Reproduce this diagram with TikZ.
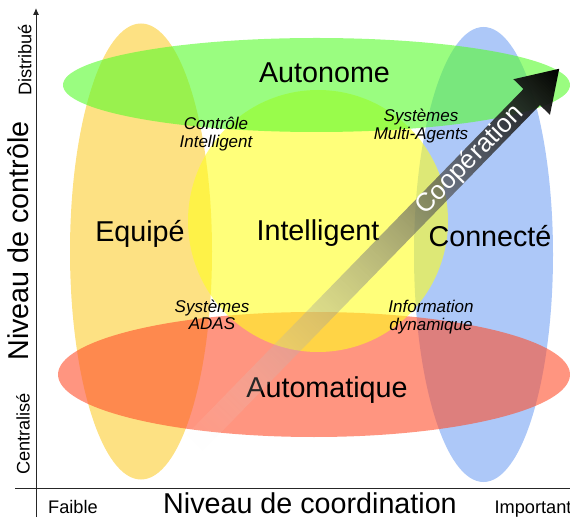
\documentclass[tikz,border=0pt]{standalone}
\usepackage{fontspec}
\setmainfont{Liberation Sans}
\usepackage{tikz}
\usetikzlibrary{arrows.meta,fadings}
\definecolor{equipecol}{HTML}{FCCD30}
\definecolor{connectecol}{HTML}{76A3F3}
\definecolor{autonomecol}{HTML}{57FC2B}
\definecolor{intelcol}{HTML}{FFFF21}
\definecolor{automcol}{HTML}{FF4E2B}
\tikzfading[name=coopfade, left color=transparent!100, right color=transparent!0]
\tikzstyle{zone} = [fill opacity=0.6]
\tikzstyle{axis} = [draw=black!85, line width=1pt]
\tikzstyle{big} = [font=\fontsize{28.7}{30}\selectfont, text height=20.5pt, text depth=0pt, inner sep=0pt]
\tikzstyle{small} = [font=\fontsize{17}{17.5}\selectfont\itshape, align=center, inner sep=0pt]
\tikzstyle{side} = [font=\fontsize{18.2}{20}\selectfont, text height=13pt, text depth=0pt, inner sep=0pt]
\tikzstyle{coop} = [left color=white, right color=black, path fading=coopfade]

\begin{document}
\begin{tikzpicture}[x=1pt, y=1pt]
\useasboundingbox (0,0) rectangle (570,517);

% zones
\fill [zone, fill=equipecol] (141,265.5) ellipse [x radius=71, y radius=228];
\fill [zone, fill=connectecol] (483.5,262.5) ellipse [x radius=69.5, y radius=227.5];
\fill [zone, fill=automcol] (314,142.5) ellipse [x radius=256, y radius=62.5];
\fill [zone, fill=intelcol] (318,296) ellipse [x radius=130, y radius=131];
\fill [zone, fill=autonomecol] (316.5,432) ellipse [x radius=253.5, y radius=47];

% axes
\coordinate (ybot) at (36,0);
\coordinate (ytop) at (36,509);
\coordinate (xleft) at (15,29);
\coordinate (xright) at (570,29);
\draw [axis, -{Latex[length=7pt, width=6pt]}] (ybot) -- (ytop);
\draw [axis] (xleft) -- (xright);

\node [big, rotate=90] (ylabel) at (18,276) {Niveau de contr\^ole};
\node [side, rotate=90] (distrib) at (25,457) {Distribu\'e};
\node [side, rotate=90] (central) at (23,83) {Centralis\'e};
\node [big] (xlabel) at (310,14) {Niveau de coordination};
\node [side] (faible) at (73,10.5) {Faible};
\node [side] (important) at (533,10.5) {Important};

% zone labels
\node [big] (autonome) at (324.5,445) {Autonome};
\node [big] (equipe) at (140,286) {Equip\'e};
\node [big] (intel) at (318,287) {Intelligent};
\node [big] (connecte) at (490,281) {Connect\'e};
\node [big] (autom) at (327,130) {Automatique};

\node [small] (ctrlint) at (216,383) {Contr\^ole\\Intelligent};
\node [small] (sma) at (421,391) {Syst\`emes\\Multi-Agents};
\node [small] (adas) at (212,202) {Syst\`emes\\ADAS};
\node [small] (infodyn) at (431,200) {Information\\dynamique};

% cooperation arrow
\begin{scope}[transform canvas={shift={(178pt,57pt)}, rotate=45.74}]
\shade [coop] (0,-11.5) -- (507.5,-11.5) -- (507.5,-25.5) -- (547,0)
  -- (507.5,25.5) -- (507.5,11.5) -- (0,11.5) -- cycle;
\node [white, font=\fontsize{26}{28}\selectfont, inner sep=0pt] (coop) at (418.6,0) {Coop\'eration};
\end{scope}

\end{tikzpicture}
\end{document}
